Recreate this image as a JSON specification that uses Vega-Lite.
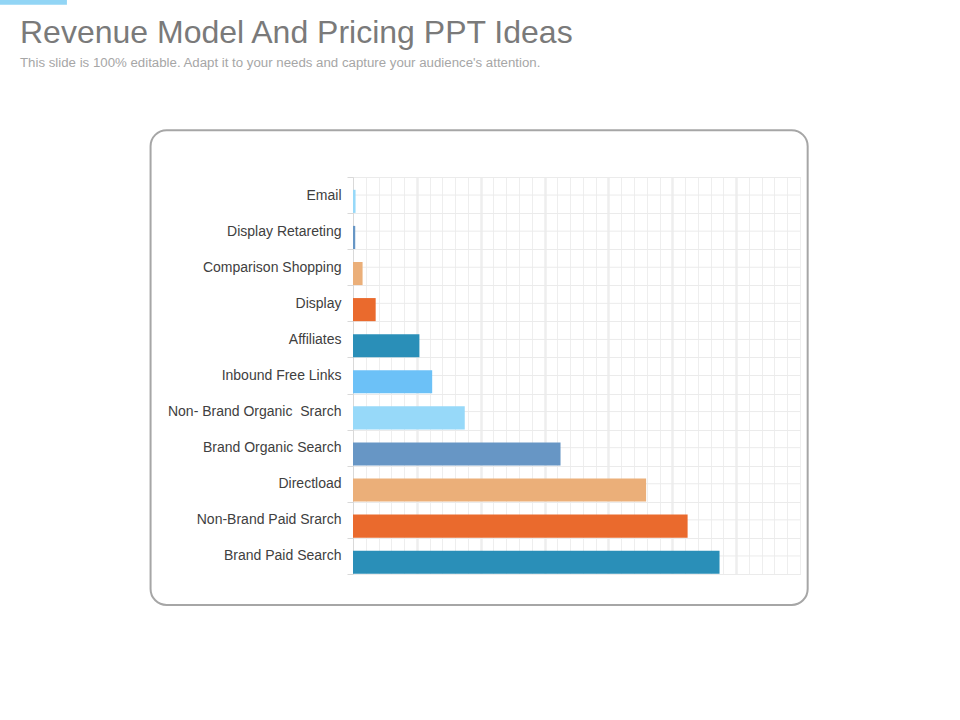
{
  "$schema": "https://vega.github.io/schema/vega-lite/v6.json",
  "width": 447,
  "height": 397,
  "autosize": "none",
  "padding": {"left": 353, "top": 177, "right": 160, "bottom": 146},
  "background": "white",
  "title": {
    "text": "Revenue Model And Pricing PPT Ideas",
    "subtitle": "This slide is 100% editable. Adapt it to your needs and capture your audience's attention.",
    "anchor": "start",
    "frame": "group",
    "dx": -333,
    "offset": -76,
    "font": "Liberation Sans",
    "fontSize": 32,
    "fontWeight": "normal",
    "color": "#7a7a7a",
    "subtitleFont": "Liberation Sans",
    "subtitleFontSize": 13.25,
    "subtitleColor": "#a6a6a6",
    "subtitlePadding": 7
  },
  "data": {
    "values": [
      {"channel": "Email", "revenue": 0.4},
      {"channel": "Display Retareting", "revenue": 0.35},
      {"channel": "Comparison Shopping", "revenue": 1.5},
      {"channel": "Display", "revenue": 3.55},
      {"channel": "Affiliates", "revenue": 10.4},
      {"channel": "Inbound Free Links", "revenue": 12.4},
      {"channel": "Non- Brand Organic \u00a0Srarch", "revenue": 17.5},
      {"channel": "Brand Organic Search", "revenue": 32.5},
      {"channel": "Directload", "revenue": 45.9},
      {"channel": "Non-Brand Paid Srarch", "revenue": 52.4},
      {"channel": "Brand Paid Search", "revenue": 57.4}
    ]
  },
  "layer": [
    {
      "data": {"values": [{}]},
      "mark": {"type": "rect", "fillOpacity": 0, "stroke": "#a6a6a6", "strokeWidth": 2, "cornerRadius": 16},
      "encoding": {
        "x": {
          "datum": -31.7,
          "type": "quantitative",
          "scale": {"domain": [0, 70], "nice": false},
          "axis": {
            "values": [0, 2, 4, 6, 8, 10, 12, 14, 16, 18, 20, 22, 24, 26, 28, 30, 32, 34, 36, 38, 40, 42, 44, 46, 48, 50, 52, 54, 56, 58, 60, 62, 64, 66, 68, 70],
            "grid": true,
            "gridColor": "#eeeeee",
            "gridWidth": 1,
            "labels": false,
            "ticks": false,
            "domain": false,
            "title": null
          }
        },
        "x2": {"datum": 71.2},
        "y": {"datum": -0.078, "type": "quantitative", "scale": {"domain": [0, 1], "nice": false}, "axis": null},
        "y2": {"datum": 1.118}
      }
    },
    {
      "data": {"values": [{}]},
      "mark": {"type": "rect", "color": "#92d5f5"},
      "encoding": {
        "x": {"datum": -55.4, "type": "quantitative", "scale": {"domain": [0, 70], "nice": false}, "axis": null},
        "x2": {"datum": -44.8},
        "y": {"datum": 1.434, "type": "quantitative", "scale": {"domain": [0, 1], "nice": false}, "axis": null},
        "y2": {"datum": 1.46}
      }
    },
    {
      "mark": {"type": "rule", "color": "#ebebeb", "strokeWidth": 1},
      "encoding": {
        "y": {"field": "channel", "type": "nominal", "sort": null, "scale": {"padding": 0}, "axis": null}
      }
    },
    {
      "mark": {"type": "bar", "height": {"band": 0.64}, "yOffset": 6.3},
      "encoding": {
        "y": {
          "field": "channel",
          "type": "nominal",
          "sort": null,
          "scale": {"padding": 0},
          "axis": {
            "title": null,
            "labelFont": "Liberation Sans",
            "labelFontSize": 14,
            "labelColor": "#404040",
            "labelPadding": 6,
            "labelLimit": 300,
            "tickBand": "extent",
            "tickSize": 6,
            "tickColor": "#d9d9d9",
            "domainColor": "#d9d9d9",
            "grid": true,
            "gridColor": "#ebebeb"
          }
        },
        "x": {
          "field": "revenue",
          "type": "quantitative",
          "scale": {"domain": [0, 70], "nice": false},
          "axis": {
            "values": [10, 20, 30, 40, 50, 60],
            "grid": true,
            "gridColor": "#eeeeee",
            "gridWidth": 2.5,
            "labels": false,
            "ticks": false,
            "domain": false,
            "title": null
          }
        },
        "color": {
          "field": "channel",
          "type": "nominal",
          "sort": null,
          "legend": null,
          "scale": {
            "domain": ["Email", "Display Retareting", "Comparison Shopping", "Display", "Affiliates", "Inbound Free Links", "Non- Brand Organic \u00a0Srarch", "Brand Organic Search", "Directload", "Non-Brand Paid Srarch", "Brand Paid Search"],
            "range": ["#97d9f9", "#6796c5", "#ebaf79", "#ea6a2d", "#2a8fb8", "#6cc1f7", "#97d9f9", "#6796c5", "#ebaf79", "#ea6a2d", "#2a8fb8"]
          }
        }
      }
    }
  ],
  "resolve": {
    "scale": {"y": "independent"},
    "axis": {"x": "independent", "y": "independent"}
  },
  "config": {
    "view": {"stroke": "#e6e6e6"}
  }
}
